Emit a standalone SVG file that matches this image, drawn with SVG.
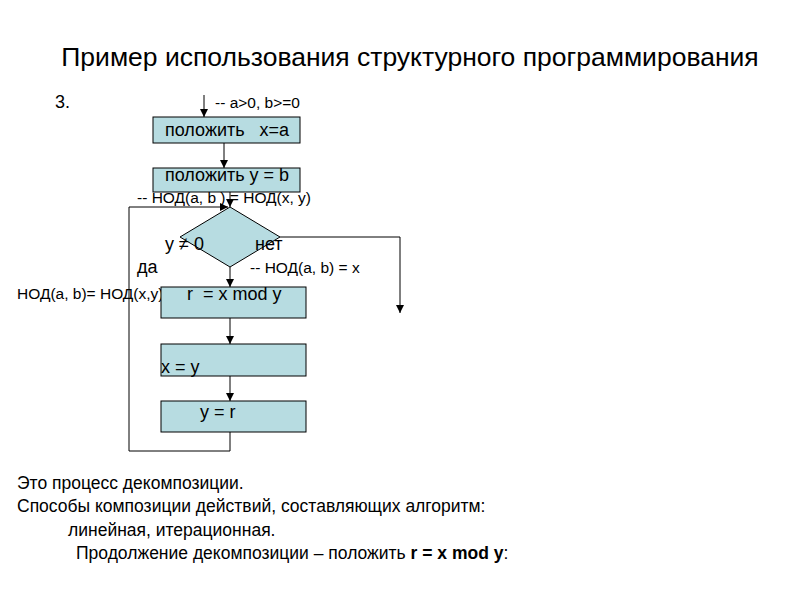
<svg xmlns="http://www.w3.org/2000/svg" width="800" height="600" viewBox="0 0 800 600">
<defs>
<marker id="ah" viewBox="0 0 10 10" refX="10" refY="5" markerWidth="8" markerHeight="8" markerUnits="userSpaceOnUse" orient="auto"><path d="M0,0 L10,5 L0,10 z" fill="#000"/></marker>
<style>
text{font-family:"Liberation Sans",Arial,sans-serif;fill:#000}
.box{fill:#b7dce1;stroke:#000;stroke-width:1}
.t18{font-size:18px}
.t15{font-size:15.5px}
.b{font-size:17.5px}
.c{fill:none;stroke:#000;stroke-width:1}
</style>
</defs>
<rect width="800" height="600" fill="#fff"/>
<text x="410" y="66" font-size="26.5" text-anchor="middle">Пример использования структурного программирования</text>
<text x="55" y="108" class="t18">3.</text>
<text x="215" y="108" class="t15">-- a&gt;0, b&gt;=0</text>
<text x="137" y="203" class="t15">-- НОД(a, b ) = НОД(x, y)</text>
<text x="250" y="273" class="t15">-- НОД(a, b) = x</text>
<text x="17" y="299" class="t15">НОД(a, b)= НОД(x,y)</text>
<g id="connectors">
<line class="c" x1="204" y1="95" x2="204" y2="117" marker-end="url(#ah)"/>
<line class="c" x1="224" y1="143" x2="224" y2="168" marker-end="url(#ah)"/>
<line class="c" x1="230" y1="192" x2="230" y2="207" marker-end="url(#ah)"/>
<polyline class="c" points="230,432 230,451 129,451 129,207 228,207" marker-end="url(#ah)"/>
<polyline class="c" points="280,237 400,237 400,313" marker-end="url(#ah)"/>
<line class="c" x1="230" y1="267" x2="230" y2="287" marker-end="url(#ah)"/>
<line class="c" x1="230" y1="318" x2="230" y2="344" marker-end="url(#ah)"/>
<line class="c" x1="230" y1="376" x2="230" y2="401" marker-end="url(#ah)"/>
</g>
<g id="n1"><rect class="box" x="153" y="117" width="147" height="26"/><text x="165" y="136" class="t18" xml:space="preserve">положить   x=a</text></g>
<g id="n2"><rect class="box" x="153" y="168" width="147" height="24"/><text x="165" y="181" class="t18">положить y = b</text></g>
<g id="n3"><polygon class="box" points="230,207 280,237 230,267 180,237"/><text x="165" y="250" class="t18">y ≠ 0</text><text x="255" y="250" class="t18">нет</text><text x="137" y="273" class="t18">да</text></g>
<g id="n4"><rect class="box" x="161" y="287" width="145" height="31"/><text x="187" y="300" class="t18" xml:space="preserve">r  = x mod y</text></g>
<g id="n5"><rect class="box" x="161" y="344" width="145" height="32"/><text x="161" y="373" class="t18">x = y</text></g>
<g id="n6"><rect class="box" x="161" y="401" width="145" height="31"/><text x="200" y="418" class="t18">y = r</text></g>
<text x="17" y="489" class="b">Это процесс декомпозиции.</text>
<text x="17" y="512" class="b">Способы композиции действий, составляющих алгоритм:</text>
<text x="68" y="536" class="b">линейная, итерационная.</text>
<text x="76" y="559" class="b">Продолжение декомпозиции – положить <tspan font-weight="bold">r = x mod y</tspan>:</text>
</svg>
